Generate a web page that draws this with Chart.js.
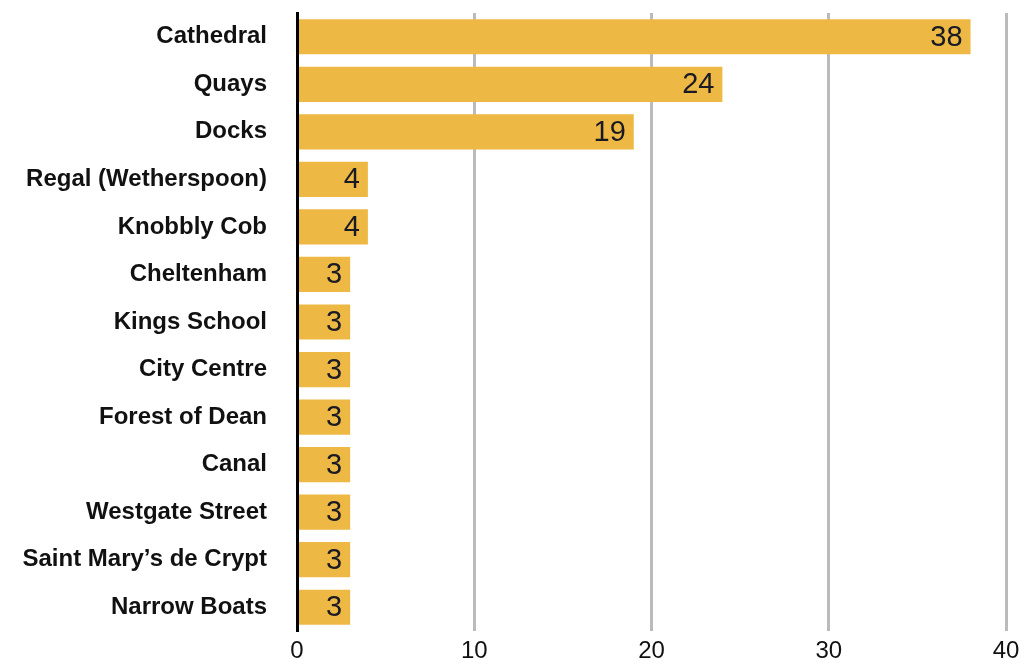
<!DOCTYPE html>
<html>
<head>
<meta charset="utf-8">
<script src="https://cdn.jsdelivr.net/npm/chart.js@4/dist/chart.umd.min.js"></script>
<style>
  html, body { margin: 0; padding: 0; background: #fff; }
  #wrap { width: 1026px; height: 668px; }
</style>
</head>
<body>
<div id="wrap"><canvas id="c" width="1026" height="668"></canvas></div>
<script>
const categories = ["Cathedral", "Quays", "Docks", "Regal (Wetherspoon)", "Knobbly Cob", "Cheltenham", "Kings School", "City Centre", "Forest of Dean", "Canal", "Westgate Street", "Saint Mary\u2019s de Crypt", "Narrow Boats"];
const values = [38, 24, 19, 4, 4, 3, 3, 3, 3, 3, 3, 3, 3];
const xTicks = [0, 10, 20, 30, 40];

const valueLabels = {
  id: 'valueLabels',
  afterDatasetsDraw(chart) {
    const ctx = chart.ctx;
    const meta = chart.getDatasetMeta(0);
    ctx.save();
    ctx.font = '29px "Liberation Sans", Arial, sans-serif';
    ctx.fillStyle = '#1a1a24';
    ctx.textAlign = 'right';
    ctx.textBaseline = 'middle';
    meta.data.forEach((bar, i) => {
      ctx.fillText(String(values[i]), bar.x - 8, bar.y + 1);
    });
    ctx.restore();
  }
};

new Chart(document.getElementById('c'), {
  type: 'bar',
  data: {
    labels: categories,
    datasets: [{
      data: values,
      backgroundColor: '#EDB944',
      borderWidth: 0,
      barPercentage: 0.74,
      categoryPercentage: 1.0
    }]
  },
  options: {
    indexAxis: 'y',
    responsive: false,
    animation: false,
    layout: { padding: { top: 13, right: 20, left: 0, bottom: 0 } },
    plugins: { legend: { display: false }, tooltip: { enabled: false } },
    scales: {
      x: {
        min: 0, max: 40,
        afterBuildTicks(scale) { scale.ticks = xTicks.map(v => ({ value: v })); },
        afterFit(scale) {
          scale.height = 668 - 631;
          scale.paddingLeft = 0; scale.paddingRight = 0;
        },
        ticks: {
          padding: 6,
          color: '#111',
          font: { family: '"Liberation Sans", Arial, sans-serif', size: 24 }
        },
        grid: {
          drawTicks: false,
          lineWidth: 3,
          color: ctx => ctx.tick && ctx.tick.value === 0 ? 'rgba(0,0,0,0)' : '#BBBBBB'
        },
        border: { display: false }
      },
      y: {
        afterFit(scale) {
          scale.width = 297;
          scale.paddingTop = 0; scale.paddingBottom = 0;
        },
        ticks: {
          padding: 30,
          color: '#111',
          font: { family: '"Liberation Sans", Arial, sans-serif', size: 24, weight: 'bold' }
        },
        grid: { display: false, drawTicks: false },
        border: { display: true, color: '#000', width: 3, z: 1 }
      }
    }
  },
  plugins: [valueLabels]
});
</script>
</body>
</html>
